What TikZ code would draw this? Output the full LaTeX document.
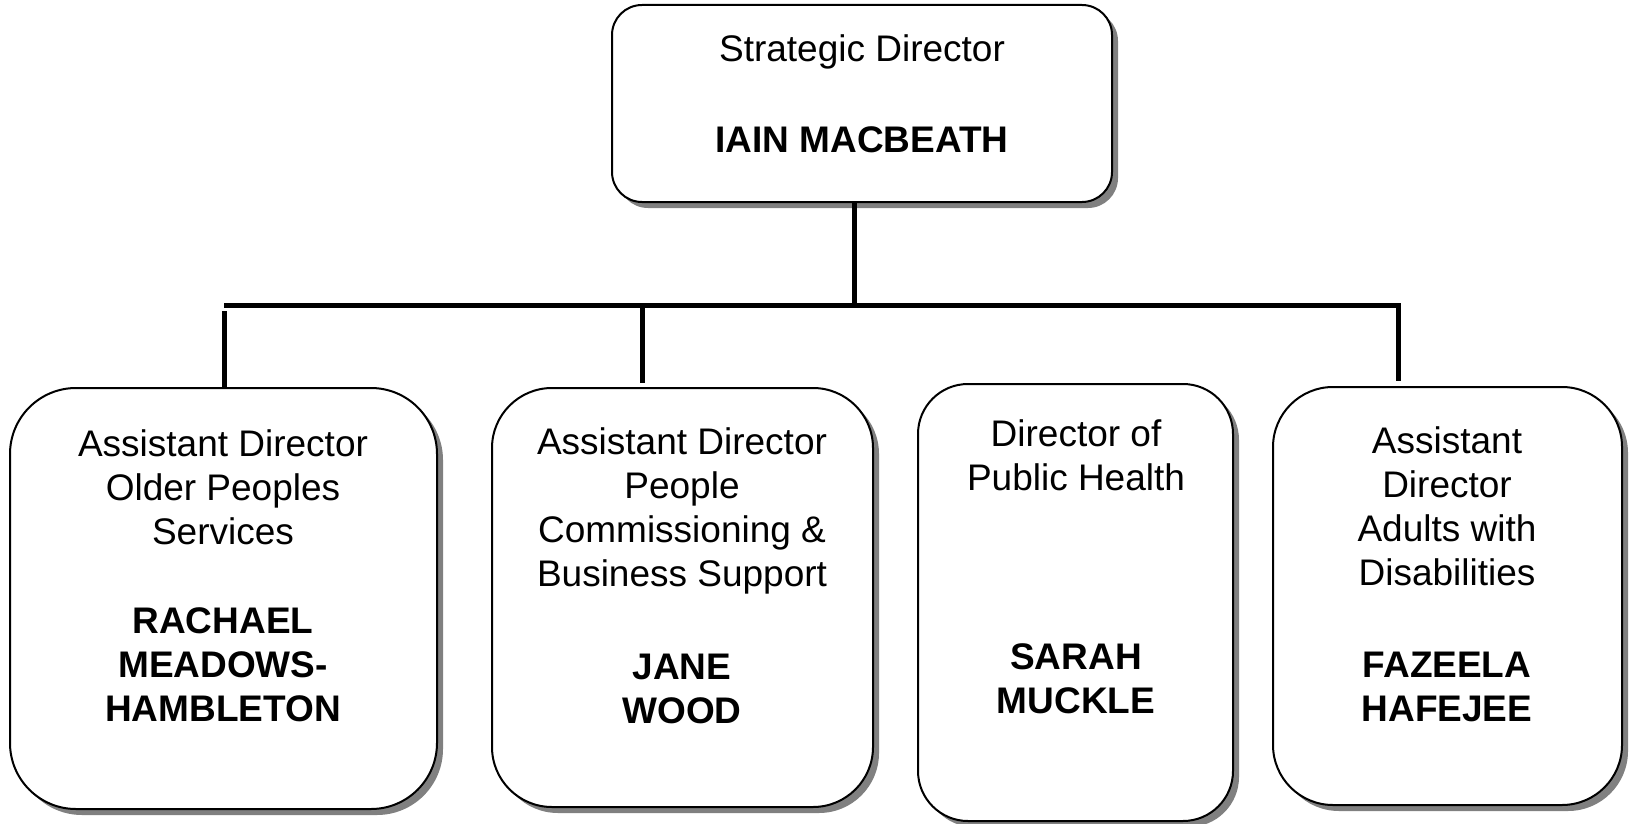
\documentclass[tikz,border=0pt]{standalone}
\usepackage{fontspec}
\setmainfont{Liberation Sans}
\usetikzlibrary{shadows}
\begin{document}
\begin{tikzpicture}[x=1pt,y=-1pt,
  box/.style={draw=black, line width=2pt, fill=white, rounded corners=#1, inner sep=0pt,
    drop shadow={shadow xshift=6pt, shadow yshift=-6pt, fill=black!50, opacity=1}},
  txt/.style={anchor=base, inner sep=0pt, font=\fontsize{37}{44}\selectfont},
  conn/.style={line width=5pt, draw=black}]
\useasboundingbox (0,0) rectangle (1632,824);
% boxes
\node[box=30pt, minimum width=500pt, minimum height=197pt] (top) at (862,103.5) {};
\node[box=66pt, minimum width=427pt, minimum height=421pt] (b1) at (223.5,598.5) {};
\node[box=60pt, minimum width=381pt, minimum height=419pt] (b2) at (682.5,597.5) {};
\node[box=50pt, minimum width=315pt, minimum height=437pt] (b3) at (1075.5,602.5) {};
\node[box=60pt, minimum width=349pt, minimum height=418pt] (b4) at (1447.5,596) {};
% texts
\node[txt] (toptitle) at (862,62) {Strategic Director};
\node[txt] (topname) at (862,152) {\bfseries IAIN MACBEATH};
\node[txt] (t1) at (223,456) {\parbox[t]{420pt}{\centering Assistant Director\\Older Peoples\\Services}};
\node[txt] (n1) at (223,633) {\parbox[t]{420pt}{\centering\bfseries RACHAEL\\MEADOWS-\\HAMBLETON}};
\node[txt] (t2) at (682,454) {\parbox[t]{370pt}{\centering Assistant Director\\People\\Commissioning \&\\Business Support}};
\node[txt] (n2) at (682,679) {\parbox[t]{370pt}{\centering\bfseries JANE\\WOOD}};
\node[txt] (t3) at (1076,446) {\parbox[t]{300pt}{\centering Director of\\Public Health}};
\node[txt] (n3) at (1076,669) {\parbox[t]{300pt}{\centering\bfseries SARAH\\MUCKLE}};
\node[txt] (t4) at (1447,453) {\parbox[t]{340pt}{\centering Assistant\\Director\\Adults with\\Disabilities}};
\node[txt] (n4) at (1447,677) {\parbox[t]{340pt}{\centering\bfseries FAZEELA\\HAFEJEE}};
% connectors
\coordinate (busM) at (854,305);
\coordinate (busL) at (224,305);
\coordinate (busR) at (1398,305);
\coordinate (s1) at (224,311);
\coordinate (s2) at (642,307);
\coordinate (e2) at (642,383);
\coordinate (e4) at (1398,381);
\draw[conn] (top.south -| busM) -- (busM);
\draw[conn] (busL) -- (busR) -- (e4);
\draw[conn] (s1) -- (s1 |- b1.north);
\draw[conn] (s2) -- (e2);
\end{tikzpicture}
\end{document}
